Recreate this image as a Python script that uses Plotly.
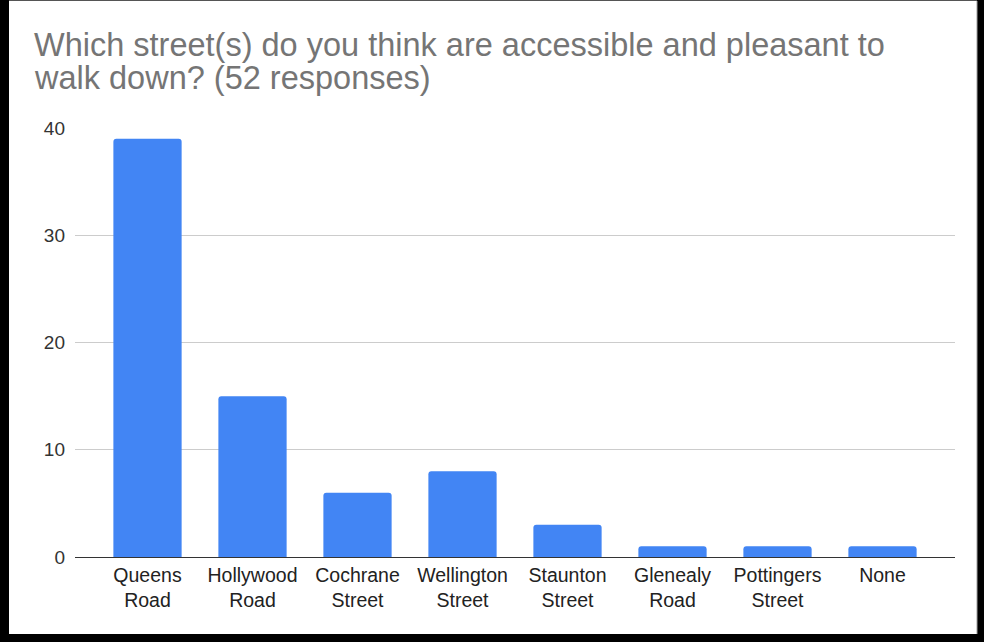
import plotly.graph_objects as go

# Survey answers: streets considered accessible and pleasant to walk down
streets = ["Queens<br>Road", "Hollywood<br>Road", "Cochrane<br>Street", "Wellington<br>Street",
           "Staunton<br>Street", "Glenealy<br>Road", "Pottingers<br>Street", "None"]
responses = [39, 15, 6, 8, 3, 1, 1, 1]
y_ticks = [0, 10, 20, 30, 40]
title_lines = ["Which street(s) do you think are accessible and pleasant to",
               "walk down? (52 responses)"]

W, H = 984, 642
L, R, T, B = 75, 29, 128, 85
plot_w = W - L - R
plot_h = H - T - B


def px_x(px):
    return (px - L) / plot_w


def px_y(py):
    return (H - B - py) / plot_h


fig = go.Figure(go.Bar(
    x=list(range(len(streets))),
    y=responses,
    marker=dict(color="#4285F4", line=dict(width=0)),
    hoverinfo="x+y",
))

pad = 20 / 105  # gridlines run a little past the outer bars

fig.update_layout(
    width=W, height=H,
    margin=dict(l=L, r=R, t=T, b=B, pad=0),
    paper_bgcolor="#000000",
    plot_bgcolor="rgba(0,0,0,0)",
    bargap=0.35,
    barcornerradius=3,
    showlegend=False,
    font=dict(family="Liberation Sans, Arial, sans-serif", size=19, color="#222222"),
    xaxis=dict(
        tickmode="array",
        tickvals=list(range(len(streets))),
        ticktext=streets,
        range=[-0.5 - pad, len(streets) - 0.5 + pad],
        showgrid=False, zeroline=False, showline=False,
        ticks="", ticklen=0,
        ticklabelstandoff=4,
        tickfont=dict(size=19.5, color="#222222"),
        fixedrange=True,
    ),
    yaxis=dict(
        range=[0, 40],
        tickvals=y_ticks,
        showgrid=True, gridcolor="#cccccc", gridwidth=1,
        zeroline=True, zerolinecolor="#333333", zerolinewidth=1.4,
        showline=False, ticks="", ticklen=0,
        ticklabelstandoff=9,
        tickfont=dict(size=19, color="#333333"),
        fixedrange=True,
    ),
    shapes=[
        # white card sitting on the dark frame
        dict(type="rect", xref="paper", yref="paper", layer="below",
             x0=px_x(9), x1=px_x(977), y0=px_y(634), y1=px_y(1),
             fillcolor="#ffffff", line=dict(width=0)),
        dict(type="line", xref="paper", yref="paper", layer="below",
             x0=px_x(977), x1=px_x(977), y0=px_y(634), y1=px_y(1),
             line=dict(color="#9e9e9e", width=1)),
        dict(type="line", xref="paper", yref="paper", layer="below",
             x0=px_x(9), x1=px_x(977), y0=px_y(0.5), y1=px_y(0.5),
             line=dict(color="#555555", width=1)),
    ],
    annotations=[
        dict(text=title_lines[0], xref="paper", yref="paper",
             x=px_x(32), y=px_y(45), xanchor="left", yanchor="middle",
             showarrow=False, font=dict(size=32.5, color="#757575")),
        dict(text=title_lines[1], xref="paper", yref="paper",
             x=px_x(32), y=px_y(78), xanchor="left", yanchor="middle",
             showarrow=False, font=dict(size=32.5, color="#757575")),
    ],
)

fig.write_html("out.html", config={"displayModeBar": False})
